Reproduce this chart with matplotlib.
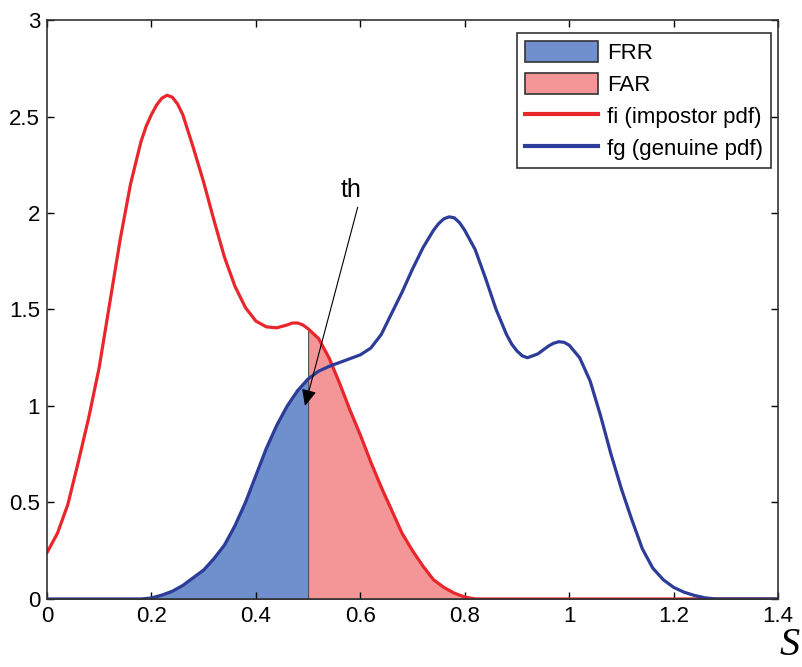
import matplotlib
matplotlib.use("Agg")
import matplotlib.pyplot as plt
import numpy as np
from matplotlib.patches import Patch
from matplotlib.lines import Line2D

# impostor score density (fi)
fi_x = [0.00, 0.02, 0.04, 0.06, 0.08, 0.10, 0.12, 0.14, 0.16, 0.18, 0.19, 0.20, 0.21,
        0.22, 0.23, 0.24, 0.25, 0.26, 0.28, 0.30, 0.32, 0.34, 0.36, 0.38, 0.40, 0.42,
        0.44, 0.46, 0.47, 0.48, 0.49, 0.50, 0.52, 0.54, 0.56, 0.58, 0.60, 0.62, 0.64,
        0.66, 0.68, 0.70, 0.72, 0.74, 0.76, 0.78, 0.80, 0.82, 1.40]
fi_y = [0.24, 0.34, 0.49, 0.71, 0.94, 1.20, 1.53, 1.86, 2.15, 2.37, 2.45, 2.51, 2.56,
        2.595, 2.61, 2.60, 2.565, 2.51, 2.34, 2.16, 1.96, 1.77, 1.62, 1.51, 1.44, 1.41,
        1.405, 1.42, 1.43, 1.43, 1.42, 1.40, 1.35, 1.25, 1.12, 0.98, 0.85, 0.71, 0.58,
        0.46, 0.34, 0.25, 0.17, 0.10, 0.06, 0.03, 0.01, 0.0, 0.0]

# genuine score density (fg)
fg_x = [0.00, 0.18, 0.20, 0.22, 0.24, 0.26, 0.28, 0.30, 0.32, 0.34, 0.36, 0.38, 0.40,
        0.42, 0.44, 0.46, 0.48, 0.50, 0.52, 0.54, 0.56, 0.58, 0.60, 0.62, 0.64, 0.66,
        0.68, 0.70, 0.72, 0.74, 0.75, 0.76, 0.77, 0.78, 0.79, 0.80, 0.82, 0.84, 0.86,
        0.88, 0.89, 0.90, 0.91, 0.92, 0.94, 0.96, 0.97, 0.98, 0.99, 1.00, 1.02, 1.04,
        1.06, 1.08, 1.10, 1.12, 1.14, 1.16, 1.18, 1.20, 1.22, 1.24, 1.26, 1.28, 1.40]
fg_y = [0.0, 0.0, 0.005, 0.02, 0.04, 0.07, 0.11, 0.15, 0.21, 0.28, 0.38, 0.50, 0.64,
        0.78, 0.90, 1.00, 1.08, 1.14, 1.18, 1.205, 1.225, 1.245, 1.265, 1.30, 1.37, 1.48,
        1.59, 1.71, 1.82, 1.91, 1.945, 1.97, 1.98, 1.975, 1.95, 1.91, 1.81, 1.66, 1.50,
        1.37, 1.32, 1.285, 1.26, 1.25, 1.27, 1.31, 1.325, 1.333, 1.33, 1.315, 1.25, 1.13,
        0.95, 0.75, 0.57, 0.41, 0.26, 0.16, 0.10, 0.06, 0.035, 0.018, 0.006, 0.0, 0.0]

th = 0.5
x_ticks = [0, 0.2, 0.4, 0.6, 0.8, 1, 1.2, 1.4]
x_labels = ["0", "0.2", "0.4", "0.6", "0.8", "1", "1.2", "1.4"]
y_ticks = [0, 0.5, 1, 1.5, 2, 2.5, 3]
y_labels = ["0", "0.5", "1", "1.5", "2", "2.5", "3"]

red = "#e8262b"
blue = "#2c3c98"
frr_col = "#6f90cc"
far_col = "#f49698"

plt.rcParams['font.family'] = ['Liberation Sans', 'DejaVu Sans']

fig = plt.figure(figsize=(8.03, 6.67), dpi=100)
ax = fig.add_axes([0.0585, 0.102, 0.9105, 0.868])

fi_x = np.array(fi_x); fi_y = np.array(fi_y)
fg_x = np.array(fg_x); fg_y = np.array(fg_y)

# FRR: genuine below threshold, FAR: impostor above threshold
ax.fill_between(fg_x, 0, fg_y, where=fg_x <= th, facecolor=frr_col,
                edgecolor="#505050", linewidth=0.8)
ax.fill_between(fi_x, 0, fi_y, where=fi_x >= th, facecolor=far_col,
                edgecolor="#505050", linewidth=0.8)
ax.plot(fi_x, fi_y, color=red, lw=2.3, solid_joinstyle="round")
ax.plot(fg_x, fg_y, color=blue, lw=2.3, solid_joinstyle="round")

ax.annotate("", xy=(0.494, 1.0), xytext=(0.595, 2.03),
            arrowprops=dict(arrowstyle="-|>,head_length=1.0,head_width=0.45",
                            color="black", lw=0.8, shrinkA=0, shrinkB=0))
ax.text(0.583, 2.12, "th", fontsize=18, ha="center", va="center")

ax.set_xlim(0, 1.4)
ax.set_ylim(0, 3)
ax.set_xticks(x_ticks)
ax.set_xticklabels(x_labels)
ax.set_yticks(y_ticks)
ax.set_yticklabels(y_labels)
ax.tick_params(direction="in", top=True, right=True, length=5, width=1,
               labelsize=16, pad=5)
for s in ax.spines.values():
    s.set_linewidth(1.2)
    s.set_color("#333333")

handles = [Patch(facecolor=frr_col, edgecolor="#333333", lw=1.2),
           Patch(facecolor=far_col, edgecolor="#333333", lw=1.2),
           Line2D([], [], color=red, lw=3),
           Line2D([], [], color=blue, lw=3)]
leg = ax.legend(handles, ["FRR", "FAR", "fi (impostor pdf)", "fg (genuine pdf)"],
                loc="upper right", bbox_to_anchor=(0.99, 0.978), fontsize=16,
                fancybox=False, framealpha=1, edgecolor="#333333",
                handlelength=3.3, handleheight=1.1, handletextpad=0.4,
                borderpad=0.35, labelspacing=0.4, borderaxespad=0)
leg.get_frame().set_linewidth(1.2)

fig.text(0.983, 0.005, "S", fontsize=29, style="italic",
         family=["Liberation Serif", "DejaVu Serif"], ha="center", va="bottom")

fig.savefig("out.png", dpi=100)
